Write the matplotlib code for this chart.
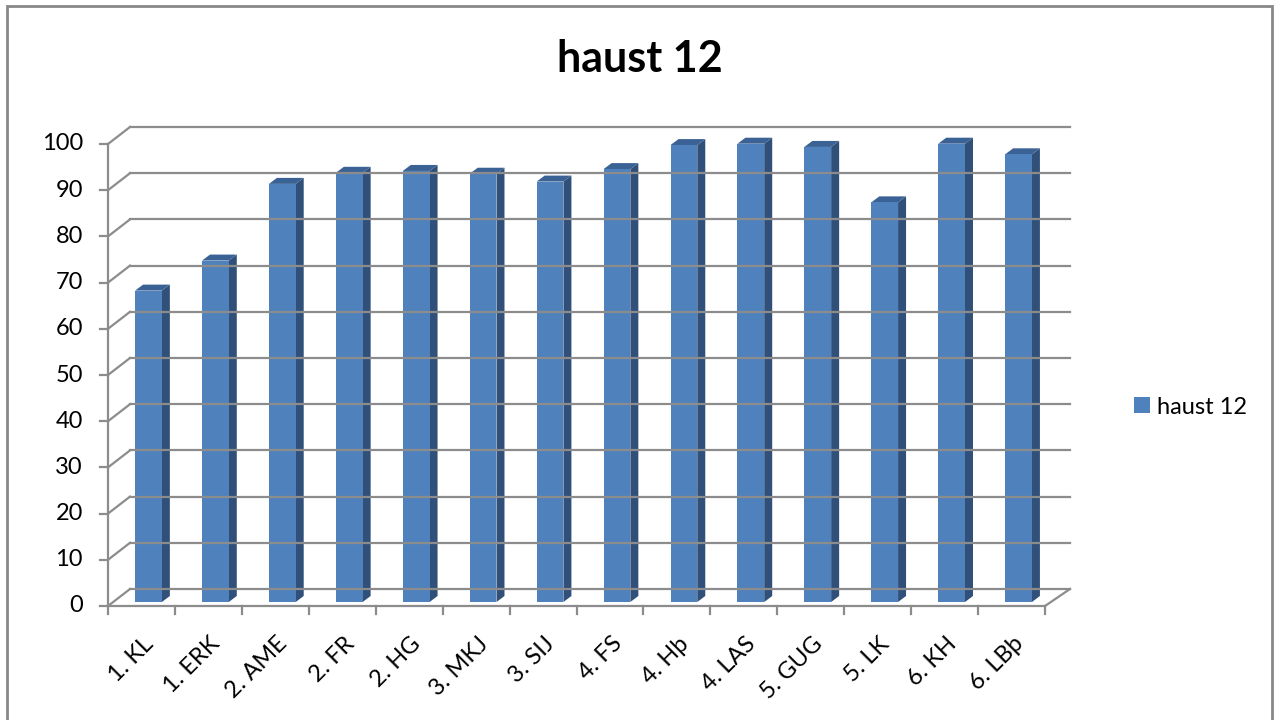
import matplotlib.pyplot as plt
from matplotlib.patches import Polygon, Rectangle
from matplotlib.lines import Line2D

plt.rcParams['font.family'] = ['Lato', 'DejaVu Sans']

# data
categories = ['1. KL', '1. ERK', '2. AME', '2. FR', '2. HG', '3. MKJ', '3. SIJ',
              '4. FS', '4. Hþ', '4. LAS', '5. GUG', '5. LK', '6. KH', '6. LBþ']
values = [67.4, 73.9, 90.5, 92.9, 93.3, 92.7, 91.0,
          93.7, 98.9, 99.2, 98.5, 86.5, 99.2, 96.9]
series_name = 'haust 12'
y_ticks = list(range(0, 101, 10))

# pixel offsets of the fake 3d look
wall_dx, wall_dy = 22, 17      # back wall relative to front plane
face_dx, face_dy = 7, 4        # bar front face relative to front plane
side_dx, side_dy = 8, 6        # bar depth
bar_w = 0.40

front_c = '#4F81BD'
side_c = '#30507A'
top_c = '#3B6295'
grid_c = '#8C8C8C'

W, H = 1274, 720
fig = plt.figure(figsize=(W / 100, H / 100), dpi=100)
ax = fig.add_axes([108 / W, 1 - 606 / H, (1045 - 108) / W, (606 - 144) / H])
ax.set_xlim(0, len(categories))
ax.set_ylim(0, 100)
ax.axis('off')

# pixel -> data conversion
px_x = len(categories) / (1045 - 108)
px_y = 100 / (606 - 144)

n = len(categories)
wx, wy = wall_dx * px_x, wall_dy * px_y

# back wall grid + left wall diagonals + y ticks
for t in y_ticks:
    ax.add_line(Line2D([wx, n + 25 * px_x], [t + wy, t + wy], color=grid_c, lw=1.6, clip_on=False))
    ax.add_line(Line2D([0, wx], [t, t + wy], color=grid_c, lw=1.6, clip_on=False))
    ax.add_line(Line2D([-8 * px_x, 0], [t, t], color=grid_c, lw=1.6, clip_on=False))
    ax.text(-25 * px_x, t, str(t), ha='right', va='center', fontsize=17, color='black')

# left axis and floor
ax.add_line(Line2D([0, 0], [0, 100], color=grid_c, lw=1.6, clip_on=False))
ax.add_line(Line2D([0, n], [0, 0], color=grid_c, lw=1.6, clip_on=False))
ax.add_line(Line2D([n, n + 25 * px_x], [0, wy], color=grid_c, lw=1.6, clip_on=False))
for i in range(n + 1):
    ax.add_line(Line2D([i, i], [0, -8 * px_y], color=grid_c, lw=1.6, clip_on=False))

# bars
fx, fy = face_dx * px_x, face_dy * px_y
sx, sy = side_dx * px_x, side_dy * px_y
for i, v in enumerate(values):
    x0 = i + 0.5 - bar_w / 2 + fx
    x1 = x0 + bar_w
    y0, y1 = fy, v + fy
    ax.add_patch(Polygon([(x1, y0), (x1 + sx, y0 + sy), (x1 + sx, y1 + sy), (x1, y1)],
                         closed=True, facecolor=side_c, edgecolor='none', clip_on=False))
    ax.add_patch(Polygon([(x0, y1), (x1, y1), (x1 + sx, y1 + sy), (x0 + sx, y1 + sy)],
                         closed=True, facecolor=top_c, edgecolor='none', clip_on=False))
    ax.add_patch(Rectangle((x0, y0), bar_w, v, facecolor=front_c, edgecolor='none', clip_on=False))

# category labels
for i, lab in enumerate(categories):
    ax.text(i + 0.5 + 1 * px_x, -27 * px_y, lab, rotation=45, rotation_mode='anchor',
            ha='right', va='top', fontsize=17, color='black')

# title
fig.text(640 / W, 1 - 72 / H, series_name, ha='center', va='baseline',
         fontsize=31, fontweight='bold')

# legend
fig.legend(handles=[Rectangle((0, 0), 1, 1, facecolor=front_c)], labels=[series_name],
           loc='center left', bbox_to_anchor=(1113 / W, 1 - 407 / H), frameon=False,
           fontsize=17, handlelength=0.65, handleheight=0.65, handletextpad=0.3)

# outer border
fig.add_artist(Rectangle((7 / W, -0.01), (1272 - 7) / W, 1 - 6 / H + 0.01,
                         transform=fig.transFigure, fill=False, edgecolor='#888888', lw=2))

fig.savefig('out.png', dpi=100)
